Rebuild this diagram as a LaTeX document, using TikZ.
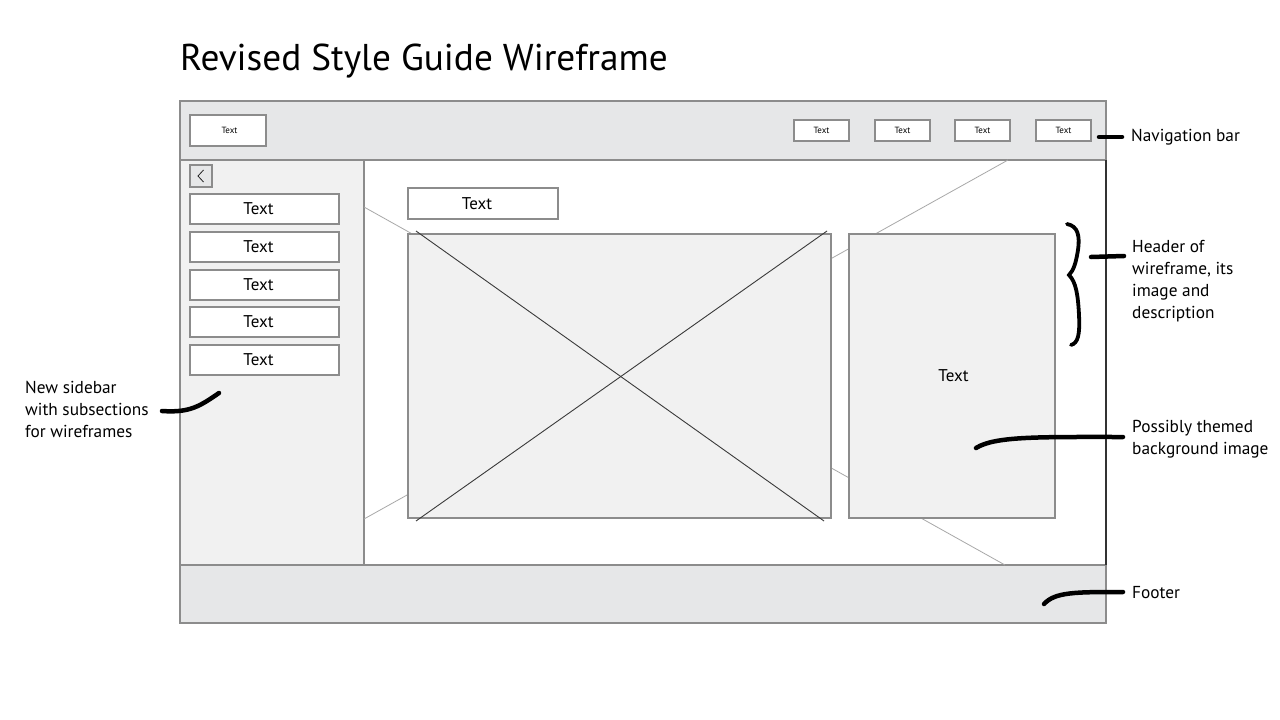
\documentclass[tikz,border=0pt]{standalone}
\usepackage{fontspec}
\setmainfont{PT Sans}
\definecolor{framegray}{HTML}{8C8C8C}
\definecolor{navfill}{HTML}{E6E7E8}
\definecolor{sidefill}{HTML}{F1F1F1}
\definecolor{guidegray}{HTML}{A8A8A8}
\definecolor{crossgray}{HTML}{3A3A3A}
\begin{document}
\begin{tikzpicture}[x=1pt,y=-1pt,
  region/.style={draw=framegray, line width=1.3pt, inner sep=0pt, outer sep=0pt},
  wbox/.style={draw=framegray, line width=1.2pt, fill=white, inner sep=0pt, outer sep=0pt},
  smalltext/.style={font=\fontsize{9}{10}\selectfont},
  bigtext/.style={font=\fontsize{17}{20}\selectfont},
  note/.style={font=\fontsize{17.3}{22}\selectfont, align=left, inner sep=0pt, anchor=north west},
  marker/.style={line width=4.5pt, line cap=round, black},
  guide/.style={guidegray, line width=0.8pt},
  cross/.style={crossgray, line width=0.9pt}]
\useasboundingbox[fill=white] (0,0) rectangle (1280,720);

% title
\node[anchor=base west, inner sep=0pt, font=\fontsize{37.3}{44}\selectfont] (title) at (180,70) {Revised Style Guide Wireframe};

% page regions
\node[region, fill=white, minimum width=742, minimum height=405] (content) at (735,362.5) {};
\node[region, fill=navfill, minimum width=926, minimum height=59] (nav) at (643,130.5) {};
\node[region, fill=sidefill, minimum width=184, minimum height=405] (side) at (272,362.5) {};
\node[region, fill=navfill, minimum width=926, minimum height=58] (footer) at (643,594) {};
\draw[black!80, line width=1.2pt] (content.north east) -- (content.south east);

% background image guides across the content area
\coordinate (bgA) at (364,207);
\coordinate (bgB) at (1005,565);
\coordinate (bgC) at (1008,160);
\coordinate (bgD) at (364,519);
\draw[guide] (bgA) -- (bgB);
\draw[guide] (bgC) -- (bgD);

% navigation items
\node[wbox, smalltext, minimum width=76, minimum height=31] (logo) at (228,130.5) {\kern3pt Text};
\node[wbox, smalltext, minimum width=55, minimum height=21] (nav1) at (821.5,130.5) {Text};
\node[wbox, smalltext, minimum width=55, minimum height=21] (nav2) at (902.5,130.5) {Text};
\node[wbox, smalltext, minimum width=55, minimum height=21] (nav3) at (982.5,130.5) {Text};
\node[wbox, smalltext, minimum width=55, minimum height=21] (nav4) at (1063.5,130.5) {Text};

% sidebar
\node[wbox, fill=navfill, minimum width=22, minimum height=22] (back) at (201,176) {};
\draw[black!85, line width=0.8pt] ([xshift=2.5,yshift=-6]back.center) -- ([xshift=-3]back.center) -- ([xshift=2.5,yshift=6]back.center);
\node[wbox, bigtext, minimum width=149, minimum height=30] (s1) at (264.5,209) {Text\kern12pt};
\node[wbox, bigtext, minimum width=149, minimum height=30] (s2) at (264.5,247) {Text\kern12pt};
\node[wbox, bigtext, minimum width=149, minimum height=30] (s3) at (264.5,285) {Text\kern12pt};
\node[wbox, bigtext, minimum width=149, minimum height=30] (s4) at (264.5,322) {Text\kern12pt};
\node[wbox, bigtext, minimum width=149, minimum height=30] (s5) at (264.5,360) {Text\kern12pt};

% header of the wireframe
\node[wbox, bigtext, minimum width=150, minimum height=31] (head) at (483,203.5) {Text\kern12pt};
\node[wbox, fill=sidefill, minimum width=423, minimum height=284] (img) at (619.5,376) {};
\draw[cross] ([xshift=8,yshift=3]img.north west) -- ([xshift=-7,yshift=-3]img.south east);
\draw[cross] ([xshift=-4,yshift=3]img.north east) -- ([xshift=8,yshift=-3]img.south west);
\node[wbox, fill=sidefill, bigtext, minimum width=206, minimum height=284] (desc) at (952,376) {\kern3pt Text};

% annotations
\node[note] (navnote) at (1131,129) {Navigation bar};
\coordinate (navtip) at (1099,137);
\draw[marker] (navtip) -- ([xshift=-9]navnote.west |- navtip);

\node[note] (headnote) at (1132,240) {Header of\\wireframe, its\\image and\\description};
\draw[black, line width=3.8pt, line cap=round] (1067,224)
  .. controls (1078,226) and (1080,236) .. (1078,250)
  .. controls (1076,262) and (1074,270) .. (1069,275)
  .. controls (1076,282) and (1078,295) .. (1079,315)
  .. controls (1080,335) and (1078,343) .. (1071,345);
\coordinate (bracetip) at (1091,257);
\draw[marker] (bracetip) -- (1124,256);

\node[note] (sidenote) at (25,381) {New sidebar\\with subsections\\for wireframes};
\coordinate (sidetip) at (219,393);
\draw[marker] (162,411) .. controls (190,413) and (200,406) .. (sidetip);

\node[note] (bgnote) at (1132,420) {Possibly themed\\background image};
\coordinate (bgtip) at (976,448);
\draw[marker] (bgtip) .. controls (995,436) and (1040,437) .. (1123,437);

\node[note] (footnote) at (1132,586) {Footer};
\coordinate (foottip) at (1044,604);
\draw[marker] (foottip) .. controls (1055,592) and (1075,592) .. (1123,592);
\end{tikzpicture}
\end{document}
